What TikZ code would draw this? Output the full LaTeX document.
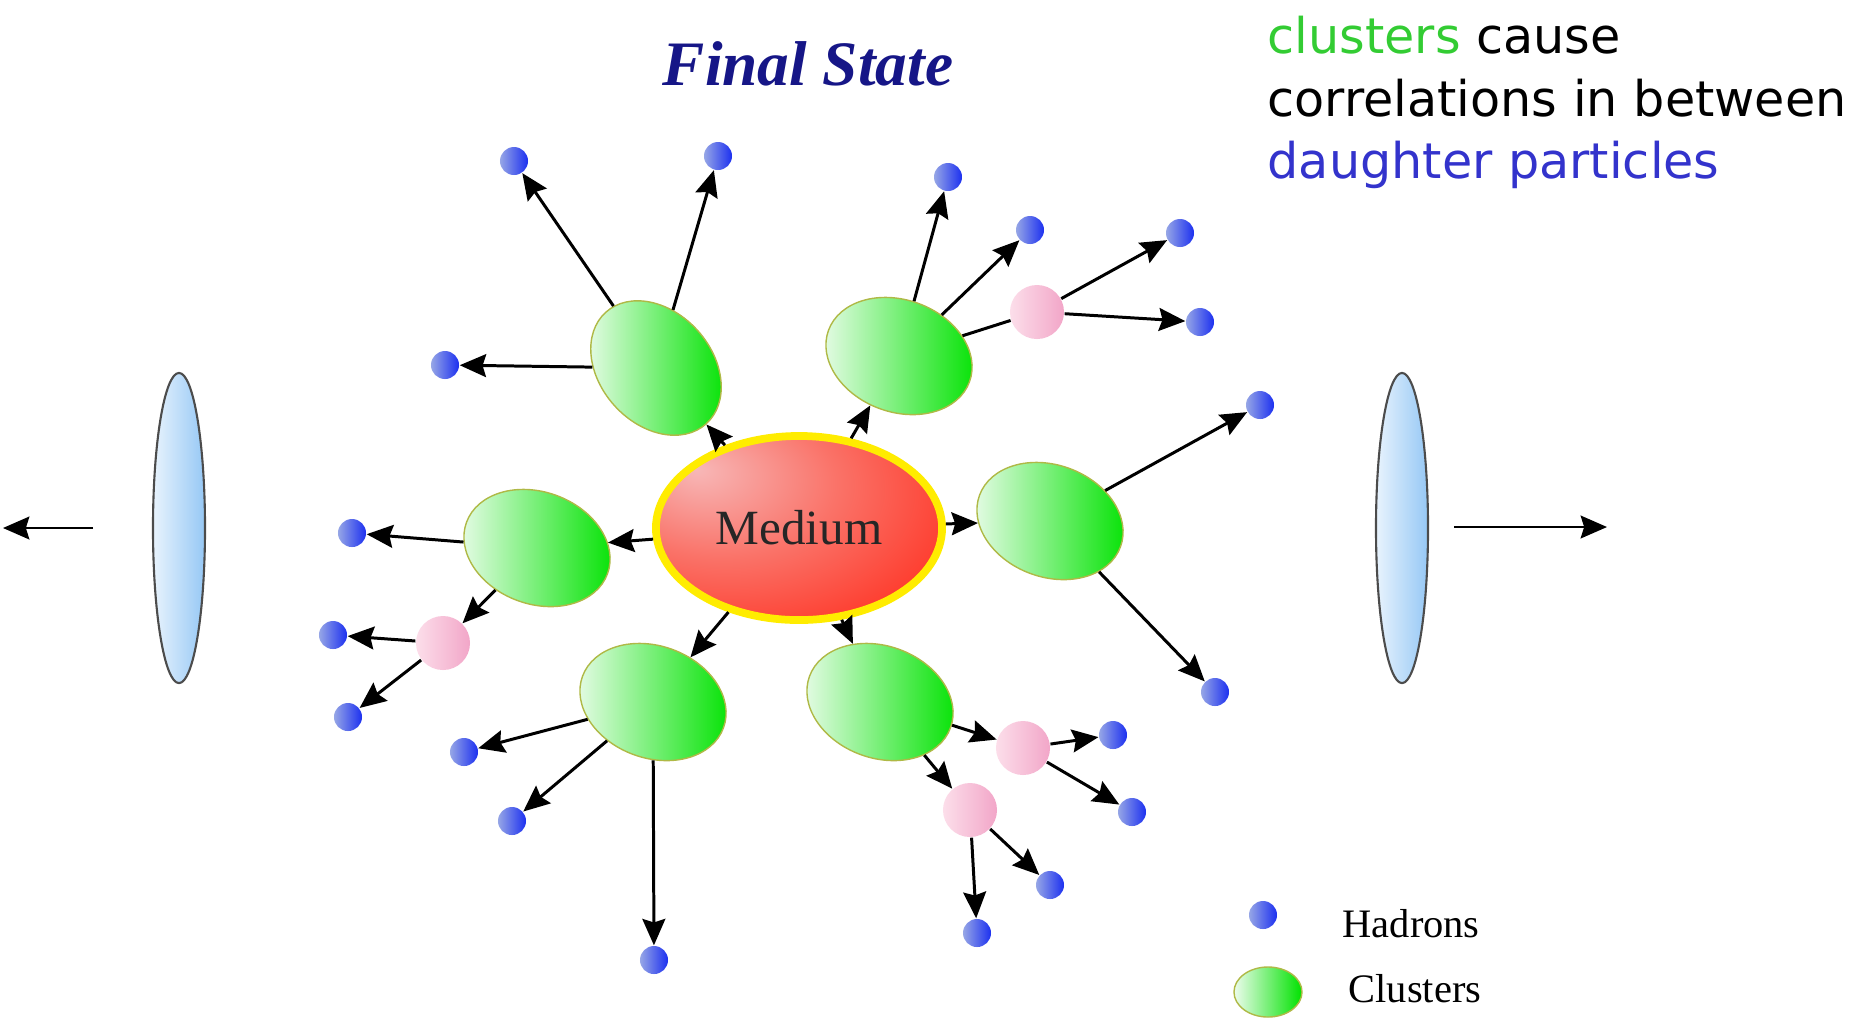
\documentclass[tikz,border=0pt]{standalone}
\usepackage{fontspec}
\setmainfont{Liberation Serif}
\newfontfamily\notefont{DejaVu Sans}
\usetikzlibrary{shapes.geometric,arrows.meta}

\definecolor{titleblue}{RGB}{22,22,135}
\definecolor{notegreen}{RGB}{51,204,51}
\definecolor{noteblue}{RGB}{51,51,204}
\definecolor{clgreen}{RGB}{0,226,0}
\definecolor{clpale}{RGB}{236,252,236}
\definecolor{cledge}{RGB}{175,185,70}
\definecolor{hadpale}{RGB}{150,166,230}
\definecolor{hadblue}{RGB}{28,48,240}
\definecolor{decpale}{RGB}{252,222,234}
\definecolor{decpink}{RGB}{242,166,200}
\definecolor{lenspale}{RGB}{232,243,253}
\definecolor{lensblue}{RGB}{150,200,245}
\definecolor{ringyellow}{RGB}{255,236,0}

\pgfdeclareradialshading{mediumshade}{\pgfpoint{-18bp}{16bp}}{rgb(0bp)=(0.97,0.72,0.72); rgb(20bp)=(0.98,0.45,0.41); rgb(42bp)=(1,0.19,0.13); rgb(80bp)=(1,0.15,0.1)}

\begin{document}
\begin{tikzpicture}[x = .01cm, y = .01cm,
  >={Stealth[length=7.5pt,width=6.5pt,inset=1pt]},
  cluster/.style = {ellipse, minimum width=1.5cm, minimum height=1.12cm, inner sep=0pt, draw=cledge, line width=.4pt, left color=clpale, right color=clgreen},
  hadron/.style = {circle, minimum size=.28cm, inner sep=0pt, left color=hadpale, right color=hadblue},
  decay/.style = {circle, minimum size=.54cm, inner sep=0pt, left color=decpale, right color=decpink},
  lens/.style = {ellipse, minimum width=.52cm, minimum height=3.1cm, inner sep=0pt, draw=black!70, line width=.6pt, left color=lenspale, right color=lensblue},
  flow/.style = {->, line width=.85pt}]
\useasboundingbox (0,0) rectangle (1866,-1020);

% titles
\node[font = \fontsize{18}{20}\selectfont\bfseries\itshape, text = titleblue, anchor = base] (title) at (808,-85) {Final State};
\node[font = \notefont\fontsize{14}{17}\selectfont, anchor = base west, inner sep = 0pt] (note1) at (1267,-53) {\textcolor{notegreen}{clusters} cause};
\node[font = \notefont\fontsize{14}{17}\selectfont, anchor = base west, inner sep = 0pt] (note2) at (1267,-116) {correlations in between};
\node[font = \notefont\fontsize{14}{17}\selectfont, anchor = base west, inner sep = 0pt, text = noteblue] (note3) at (1267,-178) {daughter particles};

% beams
\node[lens] (lensL) at (179,-528) {};
\node[lens] (lensR) at (1402,-528) {};
\coordinate (bL1) at (93,-528);
\coordinate (bL2) at (3,-528);
\coordinate (bR1) at (1454,-527);
\coordinate (bR2) at (1607,-527);
\draw[->, line width = .6pt] (bL1) -- (bL2);
\draw[->, line width = .6pt] (bR1) -- (bR2);

% medium and clusters
\node[ellipse, minimum width = 2.86cm, minimum height = 1.84cm, inner sep = 0pt, draw = ringyellow, line width = 2.2pt, shading = mediumshade, font = \fontsize{14}{16}\selectfont, text = black!85] (med) at (799,-528) {Medium};
\node[cluster, rotate = -48] (cUL) at (656,-368) {};
\node[cluster, rotate = -20] (cUR) at (899,-356) {};
\node[cluster, rotate = -20] (cL) at (537,-548) {};
\node[cluster, rotate = -20] (cR) at (1050,-521) {};
\node[cluster, rotate = -20] (cDL) at (653,-702) {};
\node[cluster, rotate = -20] (cDR) at (880,-702) {};

\node[decay] (pUR) at (1037,-312) {};
\node[decay] (pL) at (443,-643) {};
\node[decay] (pDR1) at (1023,-748) {};
\node[decay] (pDR2) at (970,-810) {};

\node[hadron] (hUL1) at (514,-161) {};
\node[hadron] (hUL2) at (718,-156) {};
\node[hadron] (hUL3) at (445,-365) {};
\node[hadron] (hUR1) at (948,-177) {};
\node[hadron] (hUR2) at (1030,-230) {};
\node[hadron] (hUR3) at (1180,-233) {};
\node[hadron] (hUR4) at (1200,-322) {};
\node[hadron] (hR1) at (1260,-405) {};
\node[hadron] (hR2) at (1215,-692) {};
\node[hadron] (hL1) at (352,-533) {};
\node[hadron] (hL2) at (333,-635) {};
\node[hadron] (hL3) at (348,-717) {};
\node[hadron] (hDL1) at (464,-752) {};
\node[hadron] (hDL2) at (512,-821) {};
\node[hadron] (hDL3) at (654,-960) {};
\node[hadron] (hDR1) at (1113,-735) {};
\node[hadron] (hDR2) at (1132,-812) {};
\node[hadron] (hDR3) at (1050,-885) {};
\node[hadron] (hDR4) at (977,-933) {};

\draw[flow] (med) -- (cUL);
\draw[flow] (med) -- (cUR);
\draw[flow] (med) -- (cL);
\draw[flow] (med) -- (cR);
\draw[flow] (med) -- (cDL);
\draw[flow] (med) -- (cDR);

\draw[flow] (cUL) -- (hUL1);
\draw[flow] (cUL) -- (hUL2);
\draw[flow] (cUL) -- (hUL3);
\draw[flow] (cUR) -- (hUR1);
\draw[flow] (cUR) -- (hUR2);
\draw[line width = .85pt] (cUR) -- (pUR);
\draw[flow] (pUR) -- (hUR3);
\draw[flow] (pUR) -- (hUR4);
\draw[flow] (cR) -- (hR1);
\draw[flow] (cR) -- (hR2);
\draw[flow] (cL) -- (hL1);
\draw[flow] (cL) -- (pL);
\draw[flow] (pL) -- (hL2);
\draw[flow] (pL) -- (hL3);
\draw[flow] (cDL) -- (hDL1);
\draw[flow] (cDL) -- (hDL2);
\draw[flow] (cDL) -- (hDL3);
\draw[flow] (cDR) -- (pDR1);
\draw[flow] (cDR) -- (pDR2);
\draw[flow] (pDR1) -- (hDR1);
\draw[flow] (pDR1) -- (hDR2);
\draw[flow] (pDR2) -- (hDR3);
\draw[flow] (pDR2) -- (hDR4);

% legend
\node[hadron] (hLeg) at (1263,-915) {};
\node[cluster, minimum width = .68cm, minimum height = .5cm] (cLeg) at (1268,-992) {};
\node[font = \fontsize{11.5}{13}\selectfont, anchor = base west, inner sep = 0pt] (hadLab) at (1342,-937) {Hadrons};
\node[font = \fontsize{11.5}{13}\selectfont, anchor = base west, inner sep = 0pt] (clusLab) at (1348,-1002) {Clusters};
\end{tikzpicture}
\end{document}
